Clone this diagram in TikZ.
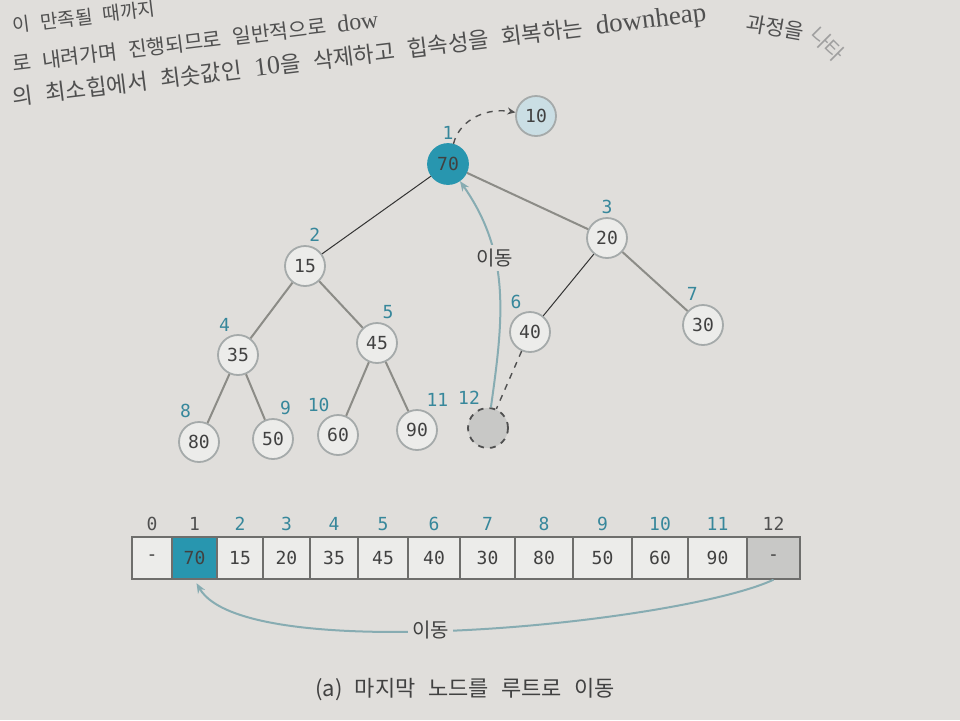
\documentclass[tikz,border=0pt]{standalone}
\usepackage{fontspec}
\setmainfont{Liberation Serif}
\newfontfamily\kr[WordSpace=3.2]{Noto Sans CJK KR}
\newfontfamily\krcap[WordSpace=2.5]{Noto Sans CJK KR}
\newfontfamily\numfont{DejaVu Sans Mono}
\usetikzlibrary{arrows.meta}
\definecolor{pagebg}{RGB}{224,222,219}
\definecolor{pagetext}{RGB}{80,80,80}
\definecolor{nodefill}{RGB}{236,236,234}
\definecolor{nodeline}{RGB}{165,170,170}
\definecolor{tealfill}{RGB}{40,150,175}
\definecolor{lightteal}{RGB}{202,222,228}
\definecolor{emptyfill}{RGB}{200,200,198}
\definecolor{idxteal}{RGB}{55,135,155}
\definecolor{idxdark}{RGB}{80,80,80}
\definecolor{edgegray}{RGB}{140,140,135}
\definecolor{movecol}{RGB}{135,172,178}
\definecolor{txtgray}{RGB}{65,65,65}
\definecolor{celldraw}{RGB}{110,110,108}

\begin{document}
\begin{tikzpicture}[x=0.5pt, y=0.5pt]
			\tikzset{enclosed/.style={draw=nodeline, line width=0.9pt, circle, inner sep=0pt, minimum size=20pt, fill=nodefill, text=txtgray, font=\numfont\fontsize{9}{10}\selectfont},
				rootnode/.style={enclosed, fill=tealfill, draw=tealfill},
				gonenode/.style={enclosed, fill=lightteal},
				emptynode/.style={enclosed, dashed, draw=idxdark, fill=emptyfill},
				idx/.style={text=idxteal, font=\numfont\fontsize{9}{10}\selectfont, inner sep=1.5pt},
				tedge/.style={draw=edgegray, line width=1pt},
				darkedge/.style={draw=black!80, line width=0.5pt},
				dashedge/.style={draw=idxdark, line width=0.7pt, dashed},
				movearrow/.style={draw=movecol, line width=1pt, -{Stealth[length=5pt, width=4pt]}},
				movelabel/.style={fill=pagebg, text=txtgray, inner sep=2pt, font=\krcap\fontsize{10}{12}\selectfont},
				cell/.style={draw=celldraw, line width=0.7pt, fill=nodefill, minimum height=21pt, inner sep=0pt, text=txtgray, font=\numfont\fontsize{9}{10}\selectfont},
				rootcell/.style={cell, fill=tealfill},
				lastcell/.style={cell, fill=emptyfill},
				toptext/.style={anchor=base west, text=pagetext, inner sep=0pt, rotate=7}}
			
			\useasboundingbox (0,0) rectangle (960,-720);
			\clip (0,0) rectangle (960,-720);
			\fill[pagebg] (0,0) rectangle (960,-720);
			
			\node[toptext, font=\kr\fontsize{9.5}{11}\selectfont] (t_1) at (13,-33) {이 만족될 때까지};
			\node[toptext, font=\kr\fontsize{10.2}{11}\selectfont] (t_2) at (13,-72) {로 내려가며 진행되므로 일반적으로 {\rmfamily\fontsize{12}{13}\selectfont dow}};
			\node[toptext, font=\kr\fontsize{11.2}{12}\selectfont] (t_3) at (13,-106) {의 최소힙에서 최솟값인 {\rmfamily\fontsize{13}{14}\selectfont 10}을 삭제하고 힙속성을 회복하는 {\rmfamily\fontsize{13.5}{14}\selectfont downheap}};
			\node[toptext, rotate=-17, font=\kr\fontsize{10.5}{12}\selectfont] (t_4) at (745,-30) {과정을};
			\node[toptext, rotate=-52, text=pagetext!55, font=\kr\fontsize{10.5}{12}\selectfont] (t_5) at (808,-36) {나타};
			
			\node[gonenode] (v_0) at (536,-116) {10};
			\node[rootnode, label={[idx]above:1}] (v_1) at (448,-164) {70};
			\node[enclosed, label={[idx]87:2}] (v_2) at (305,-266) {15};
			\node[enclosed, label={[idx]above:3}] (v_3) at (607,-238) {20};
			\node[enclosed, label={[idx]103:4}] (v_4) at (238,-355) {35};
			\node[enclosed, label={[idx]84:5}] (v_5) at (377,-343) {45};
			\node[enclosed, label={[idx]104:6}] (v_6) at (530,-332) {40};
			\node[enclosed, label={[idx]95:7}] (v_7) at (703,-325) {30};
			\node[enclosed, label={[idx]103:8}] (v_8) at (199,-442) {80};
			\node[enclosed, label={[idx]80:9}] (v_9) at (273,-439) {50};
			\node[enclosed, label={[idx]104:10}] (v_10) at (338,-435) {60};
			\node[enclosed, label={[idx]73:11}] (v_11) at (417,-430) {90};
			\node[emptynode, label={[idx]103:12}] (v_12) at (488,-428) {};
			
			\draw[darkedge] (v_1) -- (v_2);
			\draw[tedge] (v_1) -- (v_3);
			\draw[tedge] (v_2) -- (v_4);
			\draw[tedge] (v_2) -- (v_5);
			\draw[darkedge] (v_3) -- (v_6);
			\draw[tedge] (v_3) -- (v_7);
			\draw[tedge] (v_4) -- (v_8);
			\draw[tedge] (v_4) -- (v_9);
			\draw[tedge] (v_5) -- (v_10);
			\draw[tedge] (v_5) -- (v_11);
			\draw[dashedge] (v_6) -- (v_12);
			\draw[dashedge, -{Stealth[length=4pt, width=3.5pt]}] (v_1) to [out=75, in=170] (v_0);
			\draw[movearrow] (v_12) to [out=82, in=-55] node[pos=0.64, movelabel] {이동} (v_1);
			
			\foreach \i/\lft/\rgt/\val/\sty/\col in {0/132/172/-/cell/idxdark, 1/172/217/70/rootcell/idxdark, 2/217/263/15/cell/idxteal, 3/263/310/20/cell/idxteal, 4/310/358/35/cell/idxteal, 5/358/408/45/cell/idxteal, 6/408/460/40/cell/idxteal, 7/460/515/30/cell/idxteal, 8/515/573/80/cell/idxteal, 9/573/632/50/cell/idxteal, 10/632/688/60/cell/idxteal, 11/688/747/90/cell/idxteal, 12/747/800/-/lastcell/idxdark}
				\node[\sty, minimum width={(\rgt-\lft)*0.5pt}, label={[idx, text=\col, label distance=1pt]above:\i}] (a_\i) at ({(\lft+\rgt)/2},-558) {\val};
			
			\draw[movearrow, shorten >=2pt] (a_12.south) to [out=-155, in=-60, looseness=0.45] node[pos=0.55, movelabel] {이동} (a_1.south);
			
			\node[text=txtgray, font=\krcap\fontsize{11}{13}\selectfont] (cap) at (465,-690) {(a) 마지막 노드를 루트로 이동};
			
		\end{tikzpicture}
\end{document}
